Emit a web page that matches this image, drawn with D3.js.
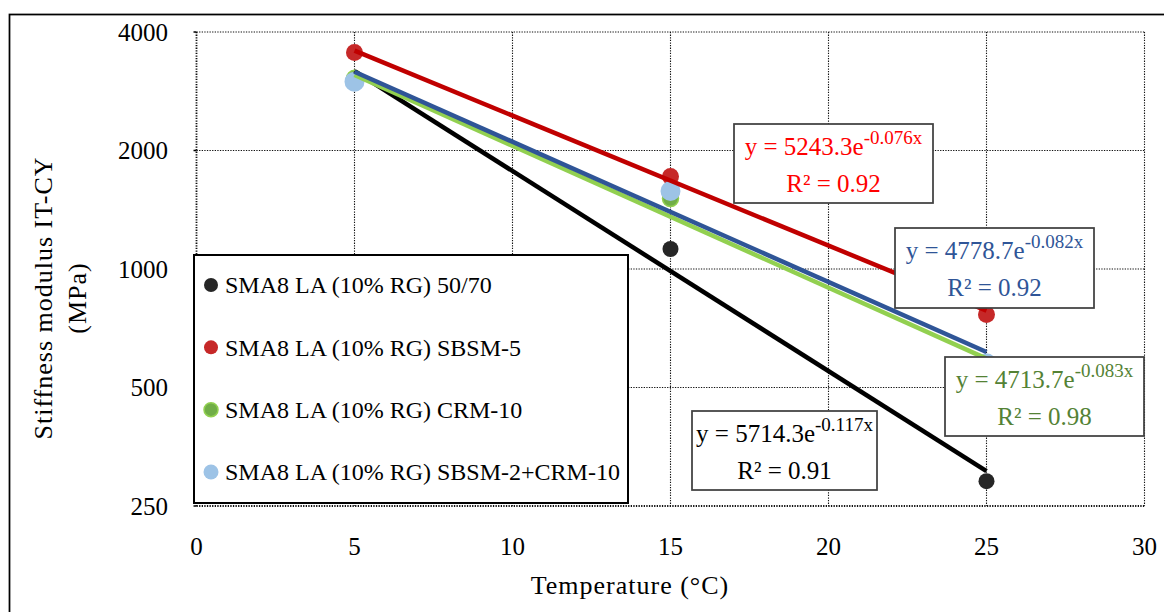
<!DOCTYPE html>
<html>
<head>
<meta charset="utf-8">
<script src="https://cdn.jsdelivr.net/npm/d3@7"></script>
<style>
  body { margin: 0; background: #fff; }
  svg { display: block; font-family: "Liberation Serif", "Times New Roman", serif; }
</style>
</head>
<body>
<div id="chart"></div>
<script>
// values
const temps = [5, 15, 25];
const seriesNames = [
  'SMA8 LA (10% RG) 50/70',
  'SMA8 LA (10% RG) SBSM-5',
  'SMA8 LA (10% RG) CRM-10',
  'SMA8 LA (10% RG) SBSM-2+CRM-10'
];
const stiff5070 = [2970, 1124, 289];
const stiffSbsm5 = [3550, 1718, 766];
const stiffCrm10 = [3050, 1510, 545];
const stiffSbsmCrm = [2991, 1578, 576];

// exponential trendlines y = a * e^(b x), as printed on the chart
const fitA = [5714.3, 5243.3, 4713.7, 4778.7];
const fitB = [-0.117, -0.076, -0.083, -0.082];
const fitR2 = [0.91, 0.92, 0.98, 0.92];

const xTicks = [0, 5, 10, 15, 20, 25, 30];
const yTicks = [250, 500, 1000, 2000, 4000];

const width = 1164;
const height = 612;

const dotFill = ['#262626', '#c62828', '#70ad47', '#9dc3e6'];
const dotStroke = [null, null, '#92d050', null];
const dotR = [8, 8.5, 8, 10];
const lineColor = ['#000000', '#c00000', '#92d050', '#2f5597'];
const labelColor = ['#000000', '#ff0000', '#548235', '#2f5597'];

// equation boxes: [x, y, w, h], placed like the reference
const labelBoxes = [
  [692, 411, 185, 79],
  [734, 124, 199, 79],
  [945, 357, 199, 79],
  [895, 228, 199, 80]
];

const series = [stiff5070, stiffSbsm5, stiffCrm10, stiffSbsmCrm].map((vals, i) => ({
  name: seriesNames[i],
  points: temps.map((t, j) => ({x: t, y: vals[j]})),
  a: fitA[i],
  b: fitB[i],
  r2: fitR2[i],
  i
}));

const x = d3.scaleLinear()
    .domain([0, 30])
    .range([196.5, 1144.5]);

const y = d3.scaleLog()
    .base(2)
    .domain([250, 4000])
    .range([506, 32]);

const svg = d3.select('#chart')
  .append('svg')
    .attr('width', width)
    .attr('height', height);

// outer frame
svg.append('rect')
    .attr('x', 9.5)
    .attr('y', 14.5)
    .attr('width', 1300)
    .attr('height', 800)
    .attr('fill', 'none')
    .attr('stroke', '#000')
    .attr('stroke-width', 1.75);

const grid = svg.append('g').attr('id', 'grid');

grid.selectAll('.vgrid')
  .data(xTicks)
  .join('line')
    .attr('class', 'vgrid')
    .attr('x1', d => x(d))
    .attr('x2', d => x(d))
    .attr('y1', y(4000))
    .attr('y2', y(250))
    .attr('stroke', '#111')
    .attr('stroke-width', d => d === 0 ? 1.8 : 1.1)
    .attr('stroke-dasharray', '1.3,1.3');

grid.selectAll('.hgrid')
  .data(yTicks)
  .join('line')
    .attr('class', 'hgrid')
    .attr('x1', x(0))
    .attr('x2', x(30))
    .attr('y1', d => y(d))
    .attr('y2', d => y(d))
    .attr('stroke', '#111')
    .attr('stroke-width', d => d === 250 ? 1.8 : 1.1)
    .attr('stroke-dasharray', '1.3,1.3');

grid.selectAll('.ytick')
  .data(yTicks)
  .join('line')
    .attr('class', 'ytick')
    .attr('x1', x(0) - 3)
    .attr('x2', x(0))
    .attr('y1', d => y(d))
    .attr('y2', d => y(d))
    .attr('stroke', '#000')
    .attr('stroke-width', 1.5);

// tick labels
svg.append('g')
  .selectAll('text')
  .data(yTicks)
  .join('text')
    .attr('x', 168)
    .attr('y', d => y(d))
    .attr('dy', '0.34em')
    .attr('text-anchor', 'end')
    .attr('font-size', 25)
    .attr('fill', '#000')
    .text(d => d);

svg.append('g')
  .selectAll('text')
  .data(xTicks)
  .join('text')
    .attr('x', d => x(d))
    .attr('y', 555)
    .attr('text-anchor', 'middle')
    .attr('font-size', 25)
    .attr('fill', '#000')
    .text(d => d);

// axis titles
svg.append('text')
    .attr('x', 630)
    .attr('y', 594)
    .attr('text-anchor', 'middle')
    .attr('font-size', 26)
    .attr('letter-spacing', 1)
    .text('Temperature (°C)');

svg.append('g')
    .attr('transform', 'translate(52,298) rotate(-90)')
    .call(g => g.append('text')
        .attr('text-anchor', 'middle')
        .attr('font-size', 26)
        .attr('letter-spacing', 1)
        .text('Stiffness modulus IT-CY'))
    .call(g => g.append('text')
        .attr('y', 34)
        .attr('text-anchor', 'middle')
        .attr('font-size', 26)
        .attr('letter-spacing', 1)
        .text('(MPa)'));

// data points
const dots = svg.append('g').attr('id', 'dots');
series.forEach(s => {
  dots.append('g')
    .selectAll('circle')
    .data(s.points)
    .join('circle')
      .attr('cx', d => x(d.x))
      .attr('cy', d => y(d.y))
      .attr('r', dotR[s.i])
      .attr('fill', dotFill[s.i])
      .attr('stroke', dotStroke[s.i] || 'none')
      .attr('stroke-width', 1.5);
});

// trendlines, from the printed equations
const line = d3.line()
    .x(d => x(d.x))
    .y(d => y(d.y));

svg.append('g')
    .attr('id', 'trend')
  .selectAll('path')
  .data(series)
  .join('path')
    .attr('d', s => line(d3.extent(temps).map(t => ({x: t, y: s.a * Math.exp(s.b * t)}))))
    .attr('fill', 'none')
    .attr('stroke', s => lineColor[s.i])
    .attr('stroke-width', 4.5)
    .attr('stroke-linecap', 'butt');

// equation labels
const labels = svg.append('g')
    .attr('id', 'labels')
  .selectAll('g')
  .data(series)
  .join('g');

labels.append('rect')
    .attr('x', s => labelBoxes[s.i][0])
    .attr('y', s => labelBoxes[s.i][1])
    .attr('width', s => labelBoxes[s.i][2])
    .attr('height', s => labelBoxes[s.i][3])
    .attr('fill', '#fff')
    .attr('stroke', '#404040')
    .attr('stroke-width', 1.75);

labels.append('text')
    .attr('x', s => labelBoxes[s.i][0] + labelBoxes[s.i][2] / 2)
    .attr('y', s => labelBoxes[s.i][1] + 31)
    .attr('text-anchor', 'middle')
    .attr('font-size', 25)
    .attr('fill', s => labelColor[s.i])
    .call(t => t.append('tspan').text(s => `y = ${s.a.toFixed(1)}e`))
    .call(t => t.append('tspan')
        .attr('font-size', 19)
        .attr('dy', -11)
        .text(s => `${s.b.toFixed(3)}x`));

labels.append('text')
    .attr('x', s => labelBoxes[s.i][0] + labelBoxes[s.i][2] / 2)
    .attr('y', s => labelBoxes[s.i][1] + 68)
    .attr('text-anchor', 'middle')
    .attr('font-size', 25)
    .attr('fill', s => labelColor[s.i])
    .text(s => `R² = ${s.r2.toFixed(2)}`);

// legend
const legend = svg.append('g').attr('id', 'legend');

legend.append('rect')
    .attr('x', 194)
    .attr('y', 255)
    .attr('width', 434)
    .attr('height', 248)
    .attr('fill', '#fff')
    .attr('stroke', '#000')
    .attr('stroke-width', 2);

const legendY = d3.scalePoint()
    .domain(seriesNames)
    .range([285, 472]);

const items = legend.selectAll('.item')
  .data(series)
  .join('g')
    .attr('class', 'item')
    .attr('transform', s => `translate(211,${legendY(s.name)})`);

items.append('circle')
    .attr('r', s => s.i === 3 ? 7.5 : 7)
    .attr('fill', s => dotFill[s.i])
    .attr('stroke', s => dotStroke[s.i] || 'none')
    .attr('stroke-width', 1.5);

items.append('text')
    .attr('x', 14)
    .attr('dy', '0.34em')
    .attr('font-size', 24)
    .attr('fill', '#000')
    .text(s => s.name);
</script>
</body>
</html>
